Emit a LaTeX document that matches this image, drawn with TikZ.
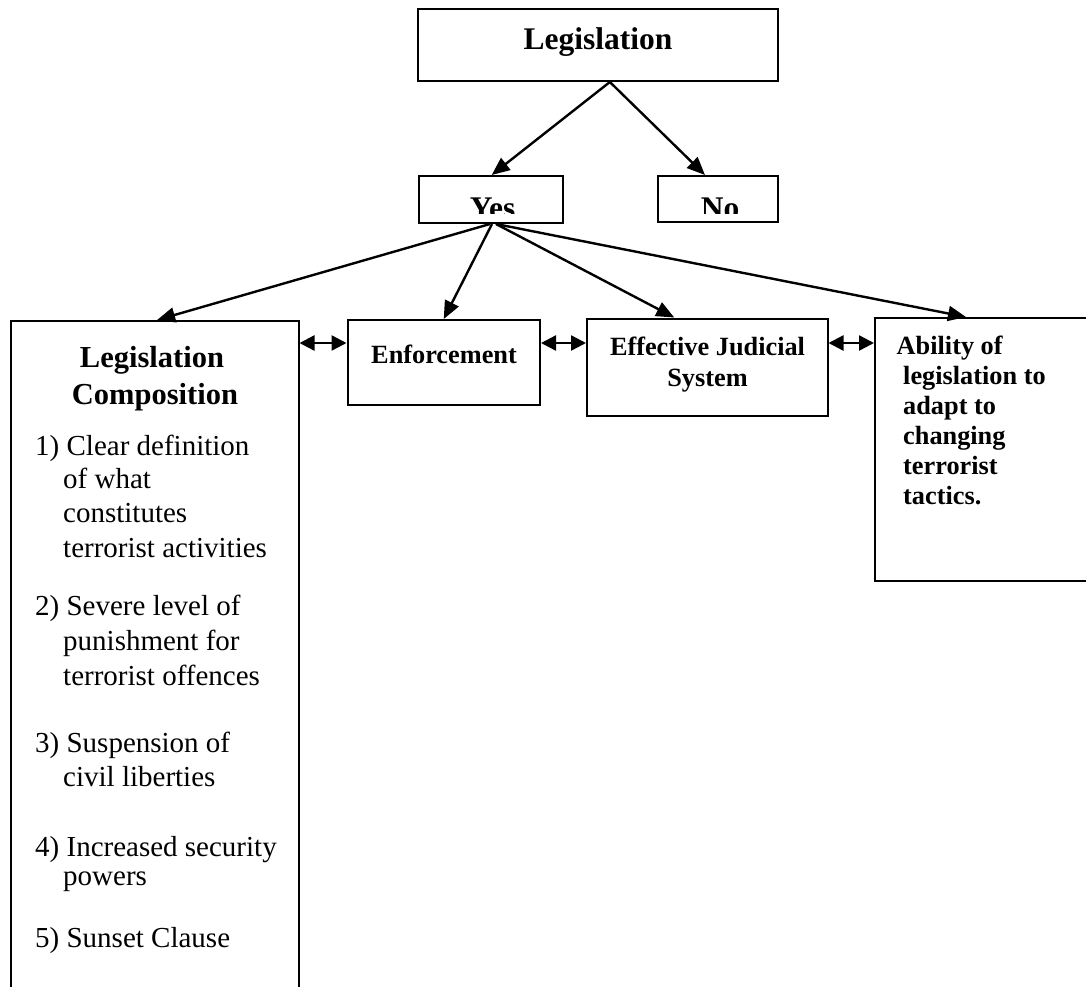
\documentclass[tikz,border=0pt]{standalone}
\usepackage{fontspec}
\setmainfont{Liberation Serif}
\usetikzlibrary{arrows.meta}
\begin{document}
\begin{tikzpicture}[x=1pt,y=-1pt,
  box/.style={draw, line width=2pt, rectangle, inner sep=0pt},
  arr/.style={line width=2.4pt, -{Triangle[length=18pt,width=15pt]}},
  dbl/.style={line width=2.4pt, {Triangle[length=15pt,width=15pt]}-{Triangle[length=15pt,width=15pt]}},
  big/.style={font=\fontsize{31.5}{38}\selectfont\bfseries, anchor=base, inner sep=0pt},
  head/.style={font=\fontsize{30.5}{37}\selectfont\bfseries, anchor=base, inner sep=0pt},
  mid/.style={font=\fontsize{26.3}{30}\selectfont\bfseries, anchor=base, inner sep=0pt},
  midl/.style={font=\fontsize{26.3}{30}\selectfont\bfseries, anchor=base west, inner sep=0pt},
  itm/.style={font=\fontsize{29}{34}\selectfont, anchor=base west, inner sep=0pt}
]
\useasboundingbox (0,0) rectangle (1086,986);
\clip (0,0) rectangle (1086,986);

% boxes
\node[box, minimum width=360.3, minimum height=72] (leg) at (597.85,45) {};
\node[box, minimum width=144, minimum height=47] (yes) at (491,199.5) {};
\node[box, minimum width=120, minimum height=46] (no) at (718,199) {};
\node[box, minimum width=287.8, minimum height=689] (lc) at (154.6,665.5) {};
\node[box, minimum width=192.5, minimum height=85] (enf) at (443.75,362.5) {};
\node[box, minimum width=240.5, minimum height=97.5] (eff) at (707.25,367.25) {};
\node[box, minimum width=225, minimum height=263] (abi) at (987.5,449.5) {};

% texts
\node[big] (tleg) at (598,49.5) {Legislation};
\begin{scope}
  \clip (420,177) rectangle (562,213);
  \node[big] (tyes) at (492.5,218) {Yes};
\end{scope}
\begin{scope}
  \clip (659,177) rectangle (777,213);
  \node[big] (tno) at (720,218) {No};
\end{scope}

\node[head] (lc1) at (152,367) {Legislation};
\node[head] (lc2) at (155,404) {Composition};

\node[itm] (i1a) at (35,455) {1) Clear definition};
\node[itm] (i1b) at (63,488) {of what};
\node[itm] (i1c) at (63,522) {constitutes};
\node[itm] (i1d) at (63,557) {terrorist activities};
\node[itm] (i2a) at (35,615) {2) Severe level of};
\node[itm] (i2b) at (63,650) {punishment for};
\node[itm] (i2c) at (63,685) {terrorist offences};
\node[itm] (i3a) at (35,752) {3) Suspension of};
\node[itm] (i3b) at (63,786) {civil liberties};
\node[itm] (i4a) at (35,856) {4) Increased security};
\node[itm] (i4b) at (63,885) {powers};
\node[itm] (i5a) at (35,947) {5) Sunset Clause};

\node[mid] (tenf) at (444,363) {Enforcement};
\node[mid] (teff1) at (707.5,355) {Effective Judicial};
\node[mid] (teff2) at (707.5,386) {System};

\node[midl] (ab1) at (896.5,354) {Ability of};
\node[midl] (ab2) at (903,384) {legislation to};
\node[midl] (ab3) at (903,414) {adapt to};
\node[midl] (ab4) at (903,444) {changing};
\node[midl] (ab5) at (903,474) {terrorist};
\node[midl] (ab6) at (903,504) {tactics.};

% arrows from Legislation
\draw[arr] ([xshift=12pt]leg.south) -- ([xshift=0.7pt]yes.north);
\draw[arr] ([xshift=12pt]leg.south) -- ([xshift=-13pt]no.north);

% arrows from Yes
\draw[arr] ([xshift=-1pt]yes.south) -- ([xshift=2.5pt]lc.north);
\draw[arr] ([xshift=1pt]yes.south) -- (enf.north);
\draw[arr] ([xshift=5pt]yes.south) -- ([xshift=-33pt]eff.north);
\draw[arr] ([xshift=5pt]yes.south) -- ([xshift=-21.5pt]abi.north);

% double arrows
\coordinate (a1) at ([yshift=19.5pt]enf.west);
\coordinate (a2) at ([yshift=24.25pt]eff.west);
\coordinate (a3) at ([yshift=106.5pt]abi.west);
\draw[dbl] (lc.east |- a1) -- (a1);
\draw[dbl] (enf.east |- a2) -- (a2);
\draw[dbl] (eff.east |- a3) -- (a3);
\end{tikzpicture}
\end{document}
